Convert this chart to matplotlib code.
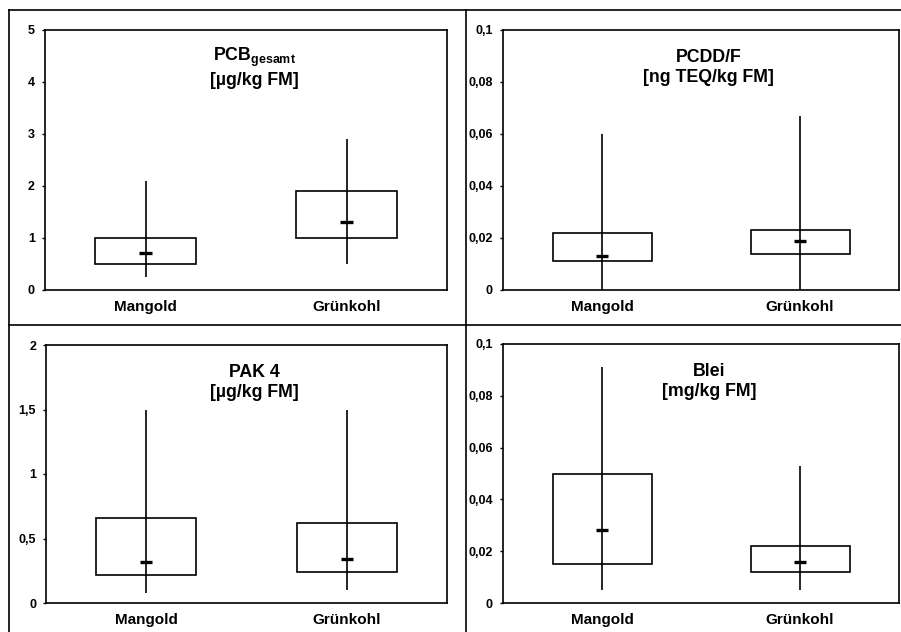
import matplotlib.pyplot as plt
from matplotlib.lines import Line2D

plt.rcParams["font.family"] = ["Liberation Sans", "DejaVu Sans"]
plt.rcParams["mathtext.fontset"] = "custom"
plt.rcParams["mathtext.rm"] = "Liberation Sans"
plt.rcParams["mathtext.bf"] = "Liberation Sans:bold"

categories = ["Mangold", "Grünkohl"]

# per panel: box low/high (quartiles), median, whisker min/max
pcb_q1 = [0.5, 1.0]
pcb_q3 = [1.0, 1.9]
pcb_med = [0.72, 1.3]
pcb_min = [0.25, 0.5]
pcb_max = [2.1, 2.9]

pcdd_q1 = [0.011, 0.014]
pcdd_q3 = [0.022, 0.023]
pcdd_med = [0.013, 0.019]
pcdd_min = [0.0, 0.0]
pcdd_max = [0.060, 0.067]

pak_q1 = [0.22, 0.24]
pak_q3 = [0.66, 0.62]
pak_med = [0.32, 0.34]
pak_min = [0.08, 0.10]
pak_max = [1.5, 1.5]

blei_q1 = [0.015, 0.012]
blei_q3 = [0.050, 0.022]
blei_med = [0.028, 0.016]
blei_min = [0.005, 0.005]
blei_max = [0.091, 0.053]

pcb_ticks = [0, 1, 2, 3, 4, 5]
pcb_labels = ["0", "1", "2", "3", "4", "5"]
small_ticks = [0, 0.02, 0.04, 0.06, 0.08, 0.1]
small_labels = ["0", "0,02", "0,04", "0,06", "0,08", "0,1"]
pak_ticks = [0, 0.5, 1, 1.5, 2]
pak_labels = ["0", "0,5", "1", "1,5", "2"]

W, H = 901, 632
fig = plt.figure(figsize=(W / 100, H / 100), dpi=100)


def px_axes(left, right, top, bottom):
    return fig.add_axes([left / W, 1 - bottom / H, (right - left) / W, (bottom - top) / H])


def draw_panel(ax, q1, q3, med, lo, hi, ticks, labels, title):
    x = [1, 2]
    heights = [b - a for a, b in zip(q1, q3)]
    ax.bar(x, heights, bottom=q1, width=0.5, fill=False, edgecolor="black", linewidth=1.2)
    ax.vlines(x, lo, hi, color="black", linewidth=1.2, zorder=3)
    ax.hlines(med, [v - 0.03 for v in x], [v + 0.03 for v in x], color="black",
              linewidth=2.4, zorder=4)
    ax.set_xlim(0.5, 2.5)
    ax.set_ylim(ticks[0], ticks[-1])
    ax.set_yticks(ticks)
    ax.set_yticklabels(labels, fontsize=9, fontweight="bold")
    ax.set_xticks(x)
    ax.set_xticklabels(categories, fontsize=11, fontweight="bold")
    ax.tick_params(axis="x", length=0, pad=7)
    ax.tick_params(axis="y", direction="out", length=2.2, width=1, pad=5)
    for s in ax.spines.values():
        s.set_linewidth(1.2)
    ax.text(0.52, 0.855, title, transform=ax.transAxes, ha="center", va="center",
            fontsize=12.8, fontweight="bold", linespacing=1.25)


ax1 = px_axes(45, 447, 30, 290)
draw_panel(ax1, pcb_q1, pcb_q3, pcb_med, pcb_min, pcb_max, pcb_ticks, pcb_labels,
           r"$\mathbf{PCB}_{\mathbf{gesamt}}$" + "\n[µg/kg FM]")

ax2 = px_axes(503, 899, 30, 290)
draw_panel(ax2, pcdd_q1, pcdd_q3, pcdd_med, pcdd_min, pcdd_max, small_ticks, small_labels,
           "PCDD/F\n[ng TEQ/kg FM]")

ax3 = px_axes(46, 447, 345, 603)
draw_panel(ax3, pak_q1, pak_q3, pak_med, pak_min, pak_max, pak_ticks, pak_labels,
           "PAK 4\n[µg/kg FM]")

ax4 = px_axes(503, 899, 344, 603)
draw_panel(ax4, blei_q1, blei_q3, blei_med, blei_min, blei_max, small_ticks, small_labels,
           "Blei\n[mg/kg FM]")

# panel frame lines
frame = [
    ([8.5, 8.5], [10, H]),
    ([8.5, W], [10, 10]),
    ([466, 466], [10, H]),
    ([8.5, W], [325, 325]),
]
for xs, ys in frame:
    fig.add_artist(Line2D([v / W for v in xs], [1 - v / H for v in ys],
                          color="black", linewidth=1.2, transform=fig.transFigure))

fig.savefig("out.png", dpi=100)
